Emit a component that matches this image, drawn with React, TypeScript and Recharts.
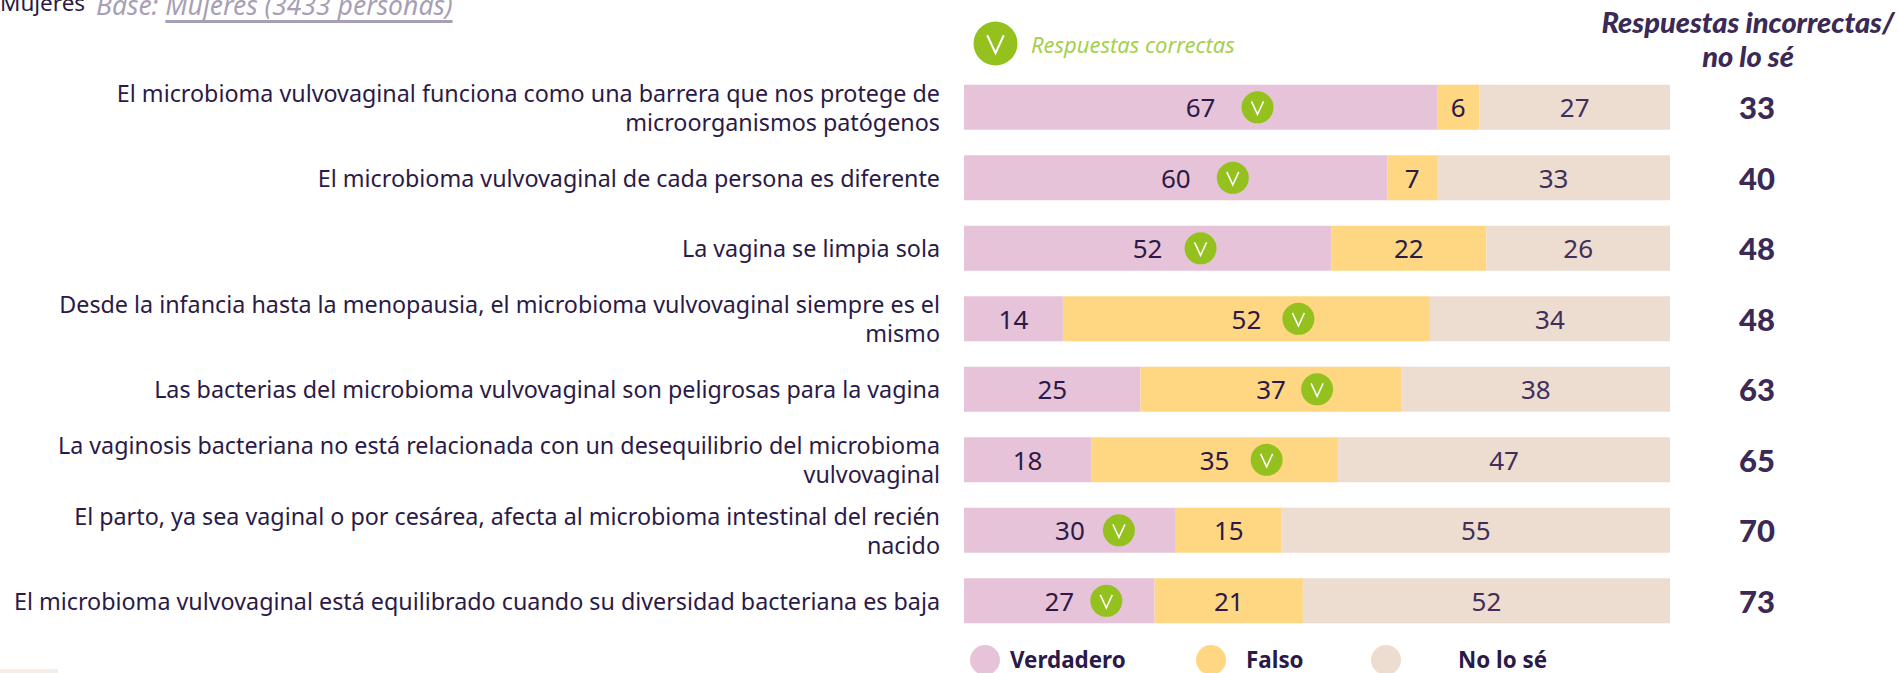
import { Bar, BarChart, LabelList, Legend, XAxis, YAxis } from "recharts"

const categories = [
  "El microbioma vulvovaginal funciona como una barrera que nos protege de\nmicroorganismos patógenos",
  "El microbioma vulvovaginal de cada persona es diferente",
  "La vagina se limpia sola",
  "Desde la infancia hasta la menopausia, el microbioma vulvovaginal siempre es el\nmismo",
  "Las bacterias del microbioma vulvovaginal son peligrosas para la vagina",
  "La vaginosis bacteriana no está relacionada con un desequilibrio del microbioma\nvulvovaginal",
  "El parto, ya sea vaginal o por cesárea, afecta al microbioma intestinal del recién\nnacido",
  "El microbioma vulvovaginal está equilibrado cuando su diversidad bacteriana es baja",
]
const verdadero = [67, 60, 52, 14, 25, 18, 30, 27]
const falso = [6, 7, 22, 52, 37, 35, 15, 21]
const noLoSe = [27, 33, 26, 34, 38, 47, 55, 52]
const incorrectas = [33, 40, 48, 48, 63, 65, 70, 73]
const correcta = ["Verdadero", "Verdadero", "Verdadero", "Falso", "Falso", "Falso", "Verdadero", "Verdadero"]

// distance from the value to the check icon, per row
const checkGap = [57, 57, 53, 52, 46, 52, 49, 47]

const data = categories.map((name, i) => ({
  name,
  Verdadero: verdadero[i],
  Falso: falso[i],
  "No lo sé": noLoSe[i],
  incorrectas: incorrectas[i],
  correcta: correcta[i],
}))

const FONT = "'Noto Sans', sans-serif"
const DARK = "#2b1a47"
const GREEN = "#95c11f"

function CheckIcon({ cx, cy, r }: { cx: number; cy: number; r: number }) {
  const s = r / 16
  return (
    <g>
      <circle cx={cx} cy={cy} r={r} fill={GREEN} />
      <path
        d={`M${cx - 6 * s} ${cy - 6 * s} L${cx} ${cy + 7 * s} L${cx + 6 * s} ${cy - 6 * s}`}
        fill="none"
        stroke="#fff"
        strokeWidth={1.5 * Math.max(s, 1)}
      />
    </g>
  )
}

function QuestionTick({ x, y, payload }: any) {
  const lines = String(payload.value).split("\n")
  const start = y - ((lines.length - 1) * 29) / 2
  return (
    <text x={x} y={start} textAnchor="end" dominantBaseline="central" fontFamily={FONT} fontSize={23.3} fill={DARK}>
      {lines.map((line, i) => (
        <tspan key={i} x={x} y={start + i * 29}>
          {line}
        </tspan>
      ))}
    </text>
  )
}

function valueLabel(series: string, color: string) {
  return ({ x, y, width, height, value, index }: any) => {
    const cx = x + width / 2
    const cy = y + height / 2
    return (
      <g>
        <text x={cx} y={cy} textAnchor="middle" dominantBaseline="central" fontFamily={FONT} fontSize={26} fill={color}>
          {value}
        </text>
        {correcta[index] === series && <CheckIcon cx={cx + checkGap[index]} cy={cy} r={16} />}
      </g>
    )
  }
}

function TotalLabel({ x, y, width, height, value }: any) {
  return (
    <text
      x={x + width + 87}
      y={y + height / 2}
      textAnchor="middle"
      dominantBaseline="central"
      fontFamily="Lato, sans-serif"
      fontWeight={900}
      fontSize={31}
      fill="#3a2a55"
    >
      {value}
    </text>
  )
}

function LegendContent({ payload }: any) {
  const spots = [
    { circle: 985, text: 1010 },
    { circle: 1211, text: 1246 },
    { circle: 1386, text: 1458 },
  ]
  return (
    <div style={{ position: "relative", width: 1899, height: 30 }}>
      {(payload || []).map((item: any, i: number) => (
        <div key={item.value}>
          <span
            style={{
              position: "absolute",
              left: spots[i].circle - 15,
              top: 0,
              width: 30,
              height: 30,
              borderRadius: "50%",
              background: item.color,
            }}
          />
          <span
            style={{
              position: "absolute",
              left: spots[i].text,
              top: 1,
              lineHeight: "28px",
              fontFamily: FONT,
              fontWeight: 700,
              fontSize: 22.4,
              color: DARK,
              whiteSpace: "nowrap",
            }}
          >
            {item.value}
          </span>
        </div>
      ))}
    </div>
  )
}

export default function App() {
  return (
    <div style={{ position: "absolute", left: 0, top: 0, width: 1899, height: 673, overflow: "hidden", background: "#fff" }}>
      <BarChart
        width={1899}
        height={673}
        data={data}
        layout="vertical"
        barCategoryGap={12.85}
        margin={{ top: 72, right: 229, bottom: 7, left: 0 }}
      >
        <XAxis type="number" hide domain={[0, 100]} />
        <YAxis
          type="category"
          dataKey="name"
          width={964}
          interval={0}
          axisLine={false}
          tickLine={false}
          tickSize={0}
          tickMargin={24}
          tick={<QuestionTick />}
        />
        <Legend
          verticalAlign="bottom"
          itemSorter={null}
          content={<LegendContent />}
          wrapperStyle={{ left: 0, top: 645, bottom: "auto", width: 1899 }}
        />
        <Bar dataKey="Verdadero" stackId="a" fill="#e6c3d9" isAnimationActive={false}>
          <LabelList dataKey="Verdadero" content={valueLabel("Verdadero", DARK)} />
        </Bar>
        <Bar dataKey="Falso" stackId="a" fill="#ffd782" isAnimationActive={false}>
          <LabelList dataKey="Falso" content={valueLabel("Falso", DARK)} />
        </Bar>
        <Bar dataKey="No lo sé" stackId="a" fill="#eddcd0" isAnimationActive={false}>
          <LabelList dataKey="No lo sé" content={valueLabel("No lo sé", "#3f2f5a")} />
          <LabelList dataKey="incorrectas" content={<TotalLabel />} />
        </Bar>
      </BarChart>

      <div style={{ position: "absolute", left: 0, top: -12, fontFamily: FONT, fontSize: 22.5, lineHeight: "30px", color: DARK }}>
        Mujeres
      </div>
      <div
        style={{
          position: "absolute",
          left: 96,
          top: -14,
          fontFamily: FONT,
          fontStyle: "italic",
          fontSize: 26.5,
          lineHeight: "38px",
          color: "#a89fb5",
          whiteSpace: "nowrap",
        }}
      >
        Base:{" "}
        <span style={{ textDecoration: "underline", textDecorationThickness: 3, textUnderlineOffset: 5, textDecorationSkipInk: "none" }}>
          Mujeres (3433 personas)
        </span>
      </div>

      <svg style={{ position: "absolute", left: 973, top: 21 }} width={46} height={46}>
        <CheckIcon cx={22.5} cy={22.5} r={22} />
      </svg>
      <div
        style={{
          position: "absolute",
          left: 1031,
          top: 29,
          fontFamily: FONT,
          fontStyle: "italic",
          fontSize: 22,
          lineHeight: "30px",
          color: "#a5d04e",
          whiteSpace: "nowrap",
        }}
      >
        Respuestas correctas
      </div>
      <div
        style={{
          position: "absolute",
          left: 1548,
          width: 400,
          top: 5,
          textAlign: "center",
          fontFamily: "Lato, sans-serif",
          fontStyle: "italic",
          fontWeight: 900,
          fontSize: 29,
          lineHeight: "34px",
          color: "#3a2a55",
          whiteSpace: "nowrap",
        }}
      >
        Respuestas incorrectas/
        <br />
        no lo sé
      </div>
      <div style={{ position: "absolute", left: 0, top: 669, width: 58, height: 4, background: "#f5ece6" }} />
    </div>
  )
}
